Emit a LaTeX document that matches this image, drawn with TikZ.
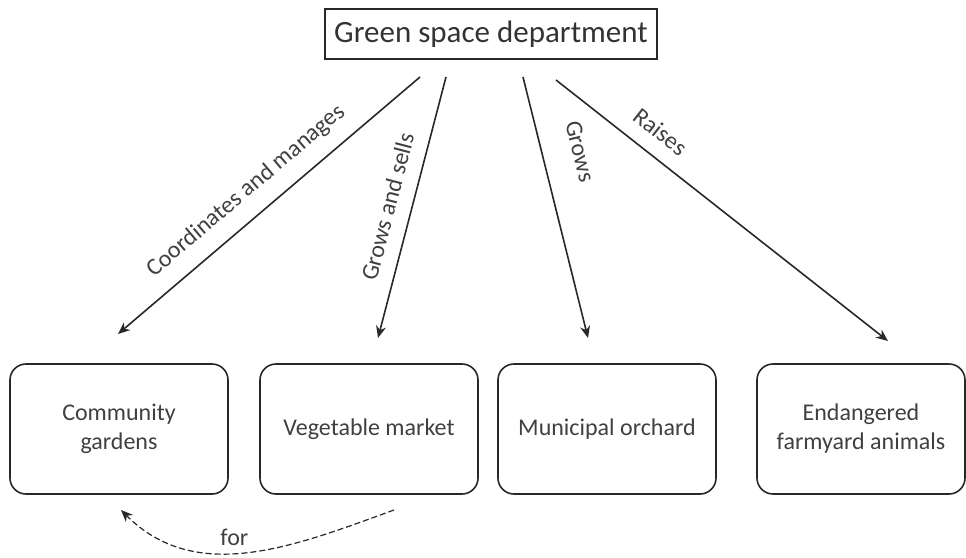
\documentclass[tikz,border=0pt]{standalone}
\usepackage{fontspec}
\setmainfont{Carlito}
\usetikzlibrary{arrows.meta}
\definecolor{inkgray}{RGB}{64,64,64}
\definecolor{linegray}{RGB}{40,40,40}
\tikzset{
  dept/.style={draw=linegray, thick, minimum width=166pt, minimum height=25pt,
    text=black!80, font=\fontsize{15.5}{18}\selectfont},
  item/.style={draw=linegray, thick, rounded corners=8pt, minimum width=109pt,
    minimum height=65pt, align=center, text=inkgray, font=\fontsize{12}{14.5}\selectfont},
  rel/.style={draw=linegray, thick, -{Stealth[length=6pt,width=5pt]}},
  lbl/.style={sloped, above=4pt, text=inkgray, font=\fontsize{12}{14.5}\selectfont},
}
\begin{document}
\begin{tikzpicture}[x=0.5pt,y=-0.5pt]
\useasboundingbox (0,0) rectangle (966,558);
\node[dept] (green) at (491,34) {Green space department};
\node[item] (garden) at (119,429) {Community\\gardens};
\node[item] (market) at (369,429) {Vegetable market};
\node[item] (orchard) at (607,429) {Municipal orchard};
\node[item, minimum width=104pt] (animals) at (861,429) {Endangered\\farmyard animals};
% arrow ends, kept off the boxes
\coordinate (s1) at (420,77); \coordinate (e1) at (118,334);
\coordinate (s2) at (446,77); \coordinate (e2) at (378,338);
\coordinate (s3) at (523,77); \coordinate (e3) at (588,338);
\coordinate (s4) at (556,80); \coordinate (e4) at (888,341);
\coordinate (f1) at (394,510); \coordinate (f2) at (121,510);
\draw[rel] (s1) -- node[lbl, pos=0.52] {Coordinates and manages} (e1);
\draw[rel] (s2) -- node[lbl, pos=0.52] {Grows and sells} (e2);
\draw[rel] (s3) -- node[lbl, pos=0.32, above=7pt] {Grows} (e3);
\draw[rel] (s4) -- node[lbl, pos=0.27] {Raises} (e4);
\draw[rel, semithick, dash pattern=on 3pt off 1.5pt] (f1) to[out=200, in=-45]
  node[pos=0.55, above, text=inkgray, font=\fontsize{12}{14.5}\selectfont] {for} (f2);
\end{tikzpicture}
\end{document}
